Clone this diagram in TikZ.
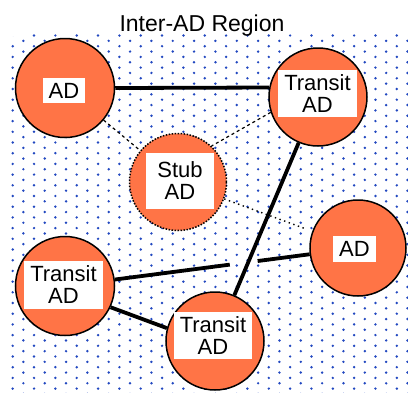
\documentclass[tikz,border=0pt]{standalone}
\usepackage{fontspec}
\setmainfont{Liberation Sans}
\usetikzlibrary{calc}
\definecolor{adorange}{HTML}{FF7446}
\definecolor{dotblue}{HTML}{2248C0}

\begin{document}
\begin{tikzpicture}[x=1pt,y=-1pt,
  adcirc/.style={circle,fill=adorange,draw=black,line width=1.5pt,inner sep=0pt,minimum size=#1},
  stubcirc/.style={dash pattern=on 1.5pt off 1.5pt},
  adlabel/.style={fill=white,inner xsep=6pt,inner ysep=5pt,align=center,font=\fontsize{22}{22}\selectfont},
  trunk/.style={line width=3.8pt},
  peer/.style={line width=1.2pt,dash pattern=on 3pt off 3pt}]
\useasboundingbox (0,0) rectangle (408,392);
% dotted region
\begin{scope}
\clip[rounded corners=15pt] (8,33) rectangle (430,420);
\foreach \i in {0,...,37} \foreach \j in {0,...,33}
  \fill[dotblue] ({12.7+10.67*\i},{35.5+10.7*\j+5.35*mod(\i,2)}) circle (1.35pt);
\end{scope}
\node[font=\fontsize{23}{23}\selectfont,anchor=base] (title) at (202,31.5) {Inter-AD Region};
% domains
\node[adcirc=99pt] (adtl) at (65,88) {};
\node[adcirc=98pt] (ttr) at (318,97) {};
\node[adcirc=97pt,stubcirc] (stub) at (178,182) {};
\node[adcirc=96pt] (adr) at (358,248) {};
\node[adcirc=99pt] (tbl) at (65,286) {};
\node[adcirc=98pt] (tbm) at (215,341) {};
\node[adlabel] (adtl-l) at (64,90.5) {AD};
\node[adlabel] (ttr-l) at (317.5,93.5) {Transit\\AD};
\node[adlabel,minimum width=68pt,minimum height=56pt] (stub-l) at (180,181) {Stub\\AD};
\node[adlabel] (adr-l) at (354.5,249) {AD};
\node[adlabel] (tbl-l) at (63.5,285) {Transit\\AD};
\node[adlabel] (tbm-l) at (213,335.5) {Transit\\AD};
% links
\draw[trunk] (adtl.0) -- (ttr.169);
\path (tbl) -- (adr) coordinate[pos=0.59] (gapa) coordinate[pos=0.733] (gapb);
\draw[trunk] (tbl) -- (gapa); \draw[trunk] (gapb) -- (adr);
\draw[trunk] (ttr) -- (tbm);
\draw[trunk] (tbl.-25) -- (tbm.165);
\draw[peer] (adtl) -- (stub); \draw[peer] (ttr.198) -- (stub.47);
\draw[line width=1.4pt,dash pattern=on 1.4pt off 3.5pt,shorten >=8pt] (stub) -- (adr);
\end{tikzpicture}
\end{document}
